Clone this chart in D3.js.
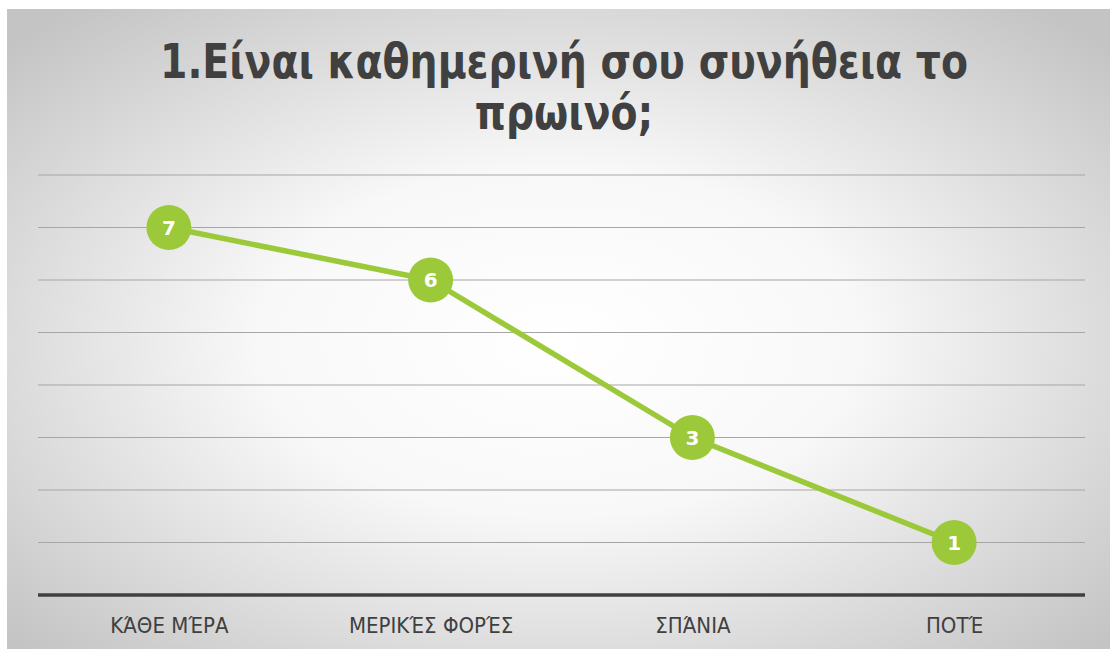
<!DOCTYPE html>
<html>
<head>
<meta charset="utf-8">
<script src="https://cdn.jsdelivr.net/npm/d3@7"></script>
<style>
  body { margin: 0; background: #fff; }
  svg { display: block; }
</style>
</head>
<body>
<svg id="chart" width="1110" height="651"></svg>
<script>
// data
const categories = ["ΚΆΘΕ ΜΈΡΑ", "ΜΕΡΙΚΈΣ ΦΟΡΈΣ", "ΣΠΆΝΙΑ", "ΠΟΤΈ"];
const values = [7, 6, 3, 1];
const yTicks = [1, 2, 3, 4, 5, 6, 7, 8];
const titleLines = ["1.Είναι καθημερινή σου συνήθεια το", "πρωινό;"];

const width = 1110, height = 651;
const plotLeft = 38, plotRight = 1085, plotTop = 175, plotBottom = 595;
const green = "#9bc93a";
const font = "'DejaVu Sans', sans-serif";

const svg = d3.select("#chart");

// background gradient
const defs = svg.append("defs");
const grad = defs.append("radialGradient")
  .attr("id", "bg")
  .attr("cx", "50%").attr("cy", "52%").attr("r", "68%");
grad.append("stop").attr("offset", "0%").attr("stop-color", "#ffffff");
grad.append("stop").attr("offset", "40%").attr("stop-color", "#f8f8f8");
grad.append("stop").attr("offset", "100%").attr("stop-color", "#c4c4c4");

svg.append("rect")
  .attr("x", 7).attr("y", 9)
  .attr("width", width - 7).attr("height", 640)
  .attr("fill", "url(#bg)");

// scales
const x = d3.scalePoint()
  .domain(categories)
  .range([plotLeft, plotRight])
  .padding(0.5);

const y = d3.scaleLinear()
  .domain([0, 8])
  .range([plotBottom, plotTop]);

// gridlines
svg.append("g")
  .selectAll("line")
  .data(yTicks)
  .join("line")
  .attr("x1", plotLeft).attr("x2", plotRight)
  .attr("y1", d => y(d)).attr("y2", d => y(d))
  .attr("stroke", "#a6a6a6")
  .attr("stroke-width", 1.2);

// x axis
const xAxis = d3.axisBottom(x).tickSize(0).tickPadding(22);
const gx = svg.append("g")
  .attr("transform", `translate(0, ${plotBottom})`)
  .call(xAxis);
gx.select(".domain")
  .attr("d", `M${plotLeft},0H${plotRight}`)
  .attr("stroke", "#404040")
  .attr("stroke-width", 3.5);
gx.selectAll("text")
  .attr("fill", "#404040")
  .style("font-family", font)
  .style("font-stretch", "condensed")
  .style("font-size", "22px");

// line
const line = d3.line()
  .x((d, i) => x(categories[i]))
  .y(d => y(d));

svg.append("path")
  .attr("d", line(values))
  .attr("fill", "none")
  .attr("stroke", green)
  .attr("stroke-width", 5.5)
  .attr("stroke-linejoin", "round");

// markers
const pts = svg.append("g")
  .selectAll("g")
  .data(values)
  .join("g")
  .attr("transform", (d, i) => `translate(${x(categories[i])}, ${y(d)})`);

pts.append("circle")
  .attr("r", 22.5)
  .attr("fill", green);

pts.append("text")
  .text(d => d)
  .attr("text-anchor", "middle")
  .attr("dy", "0.36em")
  .attr("fill", "#fff")
  .style("font-family", font)
  .style("font-weight", "bold")
  .style("font-size", "20px");

// title (bold condensed look: squeeze the glyphs a little)
const title = svg.append("g")
  .selectAll("text")
  .data(titleLines)
  .join("text")
  .attr("x", 564)
  .attr("y", (d, i) => 78 + i * 51)
  .attr("text-anchor", "middle")
  .attr("fill", "#404040")
  .style("font-family", font)
  .style("font-weight", "bold")
  .style("font-size", "48px")
  .text(d => d);

const squeeze = 808 / title.nodes()[0].getComputedTextLength();
title.each(function () {
  d3.select(this)
    .attr("textLength", this.getComputedTextLength() * squeeze)
    .attr("lengthAdjust", "spacingAndGlyphs");
});
</script>
</body>
</html>
